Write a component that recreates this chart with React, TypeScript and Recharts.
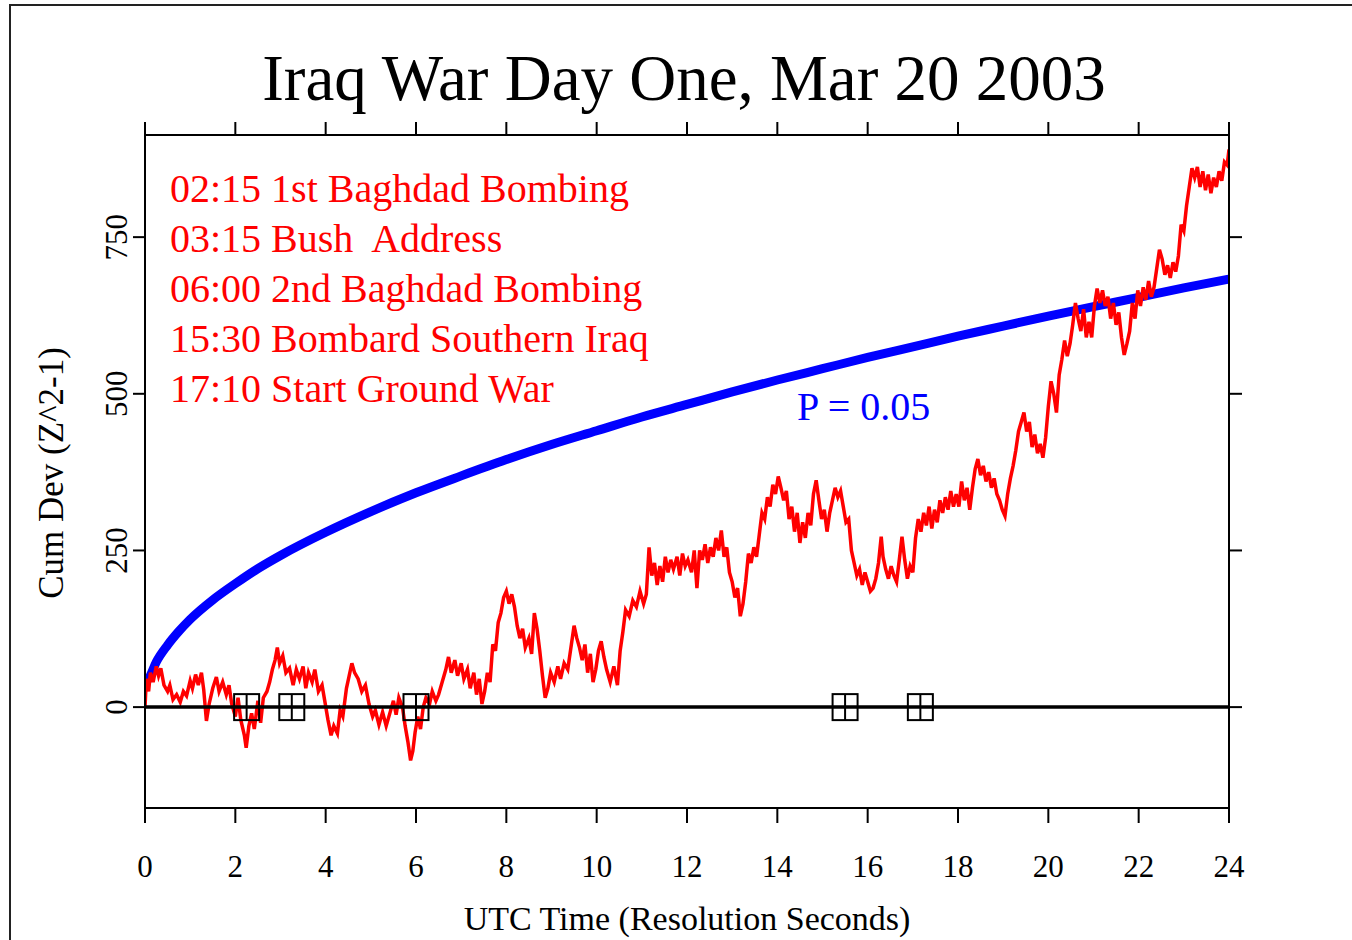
import React from 'react';
import { ComposedChart, Line, Scatter, XAxis, YAxis, ReferenceLine, Customized } from 'recharts';

// hours after 00:00 UTC, tick values
const hourTicks = [0, 2, 4, 6, 8, 10, 12, 14, 16, 18, 20, 22, 24];
const cumDevTicks = [0, 250, 500, 750];

// P = 0.05 envelope
const envelopeHours = [0, 0.1, 0.25, 0.5, 0.75, 1, 1.5, 2, 2.5, 3, 4, 5, 6, 7, 8, 9, 10, 11, 12, 13, 14, 15, 16, 17, 18, 19, 20, 21, 22, 23, 24];
const envelopeValues = [38, 48, 72, 99, 121, 140, 171, 197, 221, 242, 279, 312, 342, 369, 395, 419, 441, 463, 483, 503, 522, 540, 558, 575, 592, 608, 624, 639, 654, 669, 683];

// cumulative deviation trace [hour, value]
const cumDevTrace: [number, number][] = [
  [0, 0], [0.03, 45], [0.08, 25], [0.12, 55], [0.18, 40], [0.25, 65], [0.3, 50], [0.35, 62], [0.42, 35], [0.5, 25],
  [0.55, 35], [0.62, 12], [0.7, 20], [0.78, 8], [0.85, 25], [0.92, 18], [1.0, 42], [1.05, 30], [1.12, 52], [1.18, 35],
  [1.25, 55], [1.3, 28], [1.36, -22], [1.42, 5], [1.5, 30], [1.58, 48], [1.64, 25], [1.72, 40], [1.8, 20], [1.86, 35],
  [1.92, 5], [2.0, -15], [2.06, 15], [2.12, -20], [2.2, -45], [2.24, -65], [2.3, -30], [2.36, -10], [2.42, -35], [2.5, 10],
  [2.56, -25], [2.62, 15], [2.7, 25], [2.76, 40], [2.82, 60], [2.88, 75], [2.93, 95], [2.98, 70], [3.05, 82], [3.12, 55],
  [3.2, 62], [3.28, 35], [3.35, 60], [3.42, 45], [3.5, 65], [3.56, 30], [3.62, 55], [3.7, 40], [3.76, 60], [3.84, 25],
  [3.92, 35], [3.98, 10], [4.05, -20], [4.12, -45], [4.18, -30], [4.26, -42], [4.32, -5], [4.38, -15], [4.46, 30], [4.52, 50],
  [4.58, 70], [4.64, 55], [4.72, 45], [4.8, 25], [4.88, 35], [4.96, 5], [5.04, -15], [5.1, -5], [5.18, -28], [5.26, -8],
  [5.34, -30], [5.42, -10], [5.5, 10], [5.56, -12], [5.62, 15], [5.7, 0], [5.76, -30], [5.82, -55], [5.88, -85], [5.93, -70],
  [5.98, -40], [6.04, -15], [6.1, -35], [6.16, 0], [6.22, 15], [6.3, 5], [6.36, 25], [6.44, 10], [6.5, 20], [6.58, 40],
  [6.66, 60], [6.72, 80], [6.78, 55], [6.86, 75], [6.92, 50], [7.0, 70], [7.06, 45], [7.14, 60], [7.2, 30], [7.28, 55],
  [7.34, 20], [7.4, 45], [7.46, 5], [7.52, 25], [7.58, 55], [7.64, 40], [7.7, 100], [7.76, 90], [7.82, 135], [7.88, 150],
  [7.94, 175], [8.0, 185], [8.06, 165], [8.12, 180], [8.18, 160], [8.24, 130], [8.3, 110], [8.36, 125], [8.42, 95], [8.5, 110],
  [8.56, 85], [8.62, 150], [8.68, 125], [8.74, 90], [8.8, 50], [8.86, 15], [8.92, 30], [8.98, 55], [9.06, 40], [9.14, 65],
  [9.2, 45], [9.28, 70], [9.36, 60], [9.44, 100], [9.5, 130], [9.56, 110], [9.62, 95], [9.68, 75], [9.74, 100], [9.8, 55],
  [9.86, 85], [9.92, 40], [9.98, 60], [10.04, 90], [10.1, 105], [10.16, 80], [10.22, 60], [10.3, 40], [10.38, 65], [10.46, 35],
  [10.52, 90], [10.58, 120], [10.64, 155], [10.72, 145], [10.8, 170], [10.88, 160], [10.96, 185], [11.04, 165], [11.1, 180], [11.16, 255],
  [11.22, 210], [11.28, 230], [11.34, 195], [11.4, 225], [11.46, 200], [11.52, 240], [11.58, 215], [11.64, 235], [11.7, 220], [11.78, 240],
  [11.84, 210], [11.9, 245], [11.96, 225], [12.02, 235], [12.1, 215], [12.16, 250], [12.22, 190], [12.28, 250], [12.34, 235], [12.4, 260],
  [12.46, 230], [12.52, 255], [12.58, 240], [12.64, 270], [12.7, 250], [12.76, 282], [12.82, 240], [12.88, 255], [12.94, 215], [13.0, 200],
  [13.06, 175], [13.12, 190], [13.18, 145], [13.24, 165], [13.3, 200], [13.36, 245], [13.42, 230], [13.48, 255], [13.54, 240], [13.6, 275],
  [13.66, 310], [13.72, 300], [13.78, 335], [13.84, 320], [13.9, 355], [13.96, 340], [14.02, 368], [14.08, 350], [14.14, 330], [14.2, 345],
  [14.26, 300], [14.32, 320], [14.38, 280], [14.44, 310], [14.5, 262], [14.56, 295], [14.62, 270], [14.68, 310], [14.74, 290], [14.8, 340],
  [14.86, 362], [14.92, 330], [14.98, 300], [15.04, 315], [15.1, 280], [15.16, 310], [15.22, 330], [15.28, 350], [15.34, 335], [15.4, 345],
  [15.46, 320], [15.52, 295], [15.58, 300], [15.64, 250], [15.7, 230], [15.76, 210], [15.82, 220], [15.88, 195], [15.94, 215], [16.0, 200],
  [16.06, 185], [16.12, 190], [16.18, 205], [16.24, 230], [16.3, 272], [16.34, 240], [16.4, 220], [16.46, 205], [16.52, 225], [16.58, 210],
  [16.64, 200], [16.7, 235], [16.76, 272], [16.82, 235], [16.88, 205], [16.94, 225], [17.0, 215], [17.06, 270], [17.12, 300], [17.18, 280],
  [17.24, 310], [17.3, 290], [17.36, 320], [17.42, 285], [17.48, 315], [17.54, 295], [17.6, 330], [17.66, 310], [17.72, 335], [17.78, 315],
  [17.84, 345], [17.9, 320], [17.96, 340], [18.02, 320], [18.08, 360], [18.14, 330], [18.2, 350], [18.26, 315], [18.32, 350], [18.38, 380],
  [18.44, 396], [18.5, 370], [18.56, 385], [18.62, 360], [18.68, 375], [18.74, 350], [18.8, 365], [18.86, 340], [18.92, 330], [18.98, 315],
  [19.04, 305], [19.1, 340], [19.16, 365], [19.22, 385], [19.28, 410], [19.34, 440], [19.4, 455], [19.46, 470], [19.52, 440], [19.58, 455],
  [19.64, 415], [19.7, 435], [19.76, 405], [19.82, 420], [19.88, 398], [19.94, 430], [20.0, 480], [20.06, 520], [20.12, 500], [20.18, 470],
  [20.24, 530], [20.3, 555], [20.36, 585], [20.42, 560], [20.48, 580], [20.54, 610], [20.6, 645], [20.66, 620], [20.72, 600], [20.78, 635],
  [20.84, 590], [20.9, 615], [20.96, 590], [21.02, 640], [21.08, 668], [21.14, 645], [21.2, 665], [21.26, 640], [21.32, 655], [21.38, 620],
  [21.44, 645], [21.5, 610], [21.56, 630], [21.62, 590], [21.68, 562], [21.74, 580], [21.8, 600], [21.86, 645], [21.92, 620], [21.98, 665],
  [22.04, 640], [22.1, 670], [22.16, 650], [22.22, 680], [22.28, 655], [22.34, 670], [22.4, 700], [22.46, 730], [22.52, 715], [22.58, 690],
  [22.64, 705], [22.7, 685], [22.76, 710], [22.82, 695], [22.88, 720], [22.94, 770], [23.0, 760], [23.06, 800], [23.12, 830], [23.18, 860],
  [23.24, 845], [23.3, 862], [23.36, 830], [23.42, 855], [23.48, 825], [23.54, 850], [23.6, 820], [23.66, 845], [23.72, 830], [23.78, 855],
  [23.84, 840], [23.9, 870], [23.96, 865], [24.0, 890],
];

// events (hours UTC) and their notes
const eventHours = [2.25, 3.25, 6.0, 15.5, 17.1667];
const eventNotes = [
  '02:15 1st Baghdad Bombing',
  '03:15 Bush  Address',
  '06:00 2nd Baghdad Bombing',
  '15:30 Bombard Southern Iraq',
  '17:10 Start Ground War',
];

const envelopeData = envelopeHours.map((t, i) => ({ t, v: envelopeValues[i] }));
const traceData = cumDevTrace.map(([t, v]) => ({ t, v }));
const eventData = eventHours.map((t) => ({ t, v: 0 }));

const serif = '"Liberation Serif", "DejaVu Serif", serif';

const BottomTick = ({ x, payload }: any) => (
  <text x={x} y={877} textAnchor="middle" fontFamily={serif} fontSize={31} fill="#000">
    {payload.value}
  </text>
);

const LeftTick = ({ y, payload }: any) => (
  <text x={127} y={y} transform={`rotate(-90, 127, ${y})`} textAnchor="middle" fontFamily={serif} fontSize={31} fill="#000">
    {payload.value}
  </text>
);

const NoTick = () => <g />;

const EventBox = ({ cx, cy }: any) => (
  <g stroke="#000" strokeWidth={2} fill="none">
    <rect x={cx - 12.5} y={cy - 13} width={25} height={26} />
    <line x1={cx} y1={cy - 13} x2={cx} y2={cy + 13} />
  </g>
);

const Texts = () => (
  <g fontFamily={serif}>
    <text x={684} y={100} textAnchor="middle" fontSize={65} fill="#000">Iraq War Day One, Mar 20 2003</text>
    {eventNotes.map((note, i) => (
      <text key={note} x={170} y={202 + i * 50} fontSize={40} fill="#ff0000" style={{ whiteSpace: 'pre' }}>{note}</text>
    ))}
    <text x={797} y={420} fontSize={40} fill="#0000ff">P = 0.05</text>
    <text x={687} y={930} textAnchor="middle" fontSize={34} fill="#000">UTC Time (Resolution Seconds)</text>
    <text x={63} y={473} transform="rotate(-90, 63, 473)" textAnchor="middle" fontSize={35} fill="#000">Cum Dev (Z^2-1)</text>
  </g>
);

const axisStroke = { stroke: '#000', strokeWidth: 2 };

export default function App() {
  return (
    <div style={{ position: 'absolute', left: 0, top: 0, width: 1352, height: 940, overflow: 'hidden', background: '#fff' }}>
      <div style={{ position: 'absolute', left: 9, top: 4, width: 1400, height: 1000, border: '2px solid #222', boxSizing: 'border-box' }} />
      <div style={{ position: 'absolute', left: 0, top: 0 }}>
        <ComposedChart width={1352} height={940} margin={{ top: 0, right: 0, bottom: 0, left: 0 }}>
          <XAxis xAxisId={0} dataKey="t" type="number" domain={[0, 24]} ticks={hourTicks} allowDataOverflow
            height={132} tickSize={15} axisLine={axisStroke} tickLine={axisStroke} tick={<BottomTick />} />
          <XAxis xAxisId="top" orientation="top" dataKey="t" type="number" domain={[0, 24]} ticks={hourTicks} allowDataOverflow
            height={135} tickSize={13} axisLine={axisStroke} tickLine={axisStroke} tick={<NoTick />} />
          <YAxis yAxisId={0} type="number" domain={[-161, 913]} ticks={cumDevTicks} allowDataOverflow
            width={145} tickSize={12} axisLine={axisStroke} tickLine={axisStroke} tick={<LeftTick />} />
          <YAxis yAxisId="right" orientation="right" type="number" domain={[-161, 913]} ticks={cumDevTicks} allowDataOverflow
            width={123} tickSize={13} axisLine={axisStroke} tickLine={axisStroke} tick={<NoTick />} />
          <Line data={envelopeData} dataKey="v" type="monotone" stroke="#0000ff" strokeWidth={9} dot={false} isAnimationActive={false} />
          <Line data={traceData} dataKey="v" type="linear" stroke="#ff0000" strokeWidth={3.5} dot={false} isAnimationActive={false} />
          <ReferenceLine y={0} stroke="#000" strokeWidth={3.5} />
          <Scatter data={eventData} dataKey="v" shape={<EventBox />} isAnimationActive={false} />
          <Customized component={Texts} />
        </ComposedChart>
      </div>
    </div>
  );
}
